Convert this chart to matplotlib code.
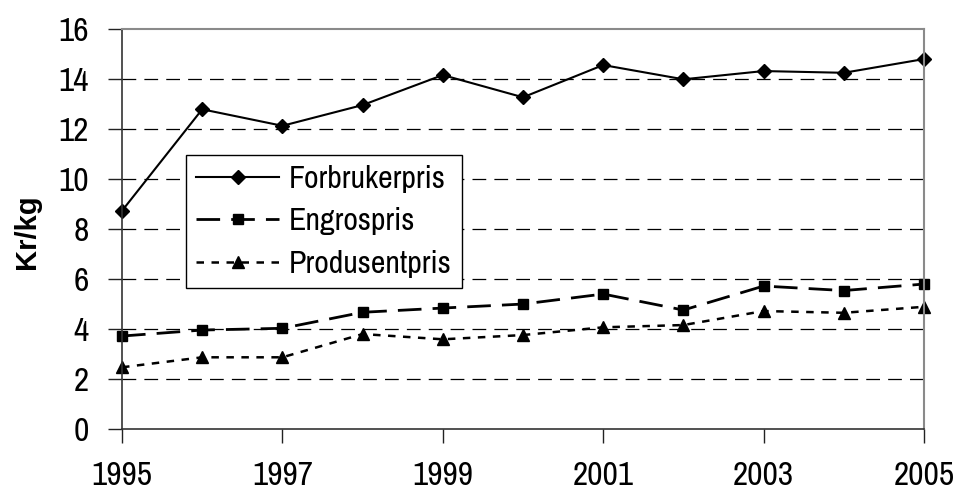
import matplotlib
matplotlib.use("Agg")
import matplotlib.pyplot as plt

years = [1995, 1996, 1997, 1998, 1999, 2000, 2001, 2002, 2003, 2004, 2005]
forbrukerpris = [8.74, 12.80, 12.14, 12.97, 14.17, 13.28, 14.57, 14.00, 14.33, 14.26, 14.81]
engrospris = [3.73, 3.97, 4.04, 4.68, 4.85, 5.01, 5.41, 4.77, 5.73, 5.55, 5.81]
produsentpris = [2.48, 2.88, 2.88, 3.81, 3.60, 3.77, 4.08, 4.17, 4.73, 4.66, 4.90]
series_names = ["Forbrukerpris", "Engrospris", "Produsentpris"]
xtick_years = [1995, 1997, 1999, 2001, 2003, 2005]
yticks = [0, 2, 4, 6, 8, 10, 12, 14, 16]

FONT = ["Archivo Narrow", "Roboto Condensed", "DejaVu Sans"]
plt.rcParams["font.family"] = FONT

fig = plt.figure(figsize=(9.55, 4.92), dpi=100)
ax = fig.add_axes([122 / 955, 1 - 429.3 / 492, 802 / 955, 400 / 492])

ax.plot(years, forbrukerpris, color="black", lw=1.5, marker="D", ms=7,
        label=series_names[0], clip_on=False)
ax.plot(years, engrospris, color="black", lw=2.0, marker="s", ms=7.5,
        linestyle=(0, (8.5, 4)), label=series_names[1], clip_on=False)
ax.plot(years, produsentpris, color="black", lw=1.8, marker="^", ms=8.5,
        linestyle=(0, (3, 3)), label=series_names[2], clip_on=False)

ax.set_xlim(1995, 2005)
ax.set_ylim(0, 16)
ax.set_xticks(xtick_years)
ax.set_xticklabels([str(y) for y in xtick_years])
ax.set_yticks(yticks)
ax.set_yticklabels([str(v) for v in yticks])

for v in yticks[1:-1]:
    ax.axhline(v, color="black", lw=0.9, linestyle=(0, (11, 6.5)), zorder=0)

ax.tick_params(axis="both", direction="out", length=10, width=1, color="#222222",
               labelsize=24)
ax.tick_params(axis="x", pad=13)
ax.tick_params(axis="y", pad=14)

ax.spines["left"].set_color("#333333")
ax.spines["bottom"].set_color("#333333")
ax.spines["left"].set_linewidth(1.2)
ax.spines["bottom"].set_linewidth(1.2)
ax.spines["top"].set_color("#8a8a8a")
ax.spines["right"].set_color("#8a8a8a")
ax.spines["top"].set_linewidth(1.5)
ax.spines["right"].set_linewidth(1.5)

ax.set_ylabel("Kr/kg", fontsize=21, fontweight="bold",
              family=["Liberation Sans", "DejaVu Sans"])
ax.yaxis.set_label_coords((41 - 122) / 802, (429.3 - 232) / 400)

leg = ax.legend(loc="upper left", bbox_to_anchor=(0.0798, 0.686), fontsize=23,
                frameon=True, fancybox=False, edgecolor="black",
                framealpha=1, handlelength=2.6, handletextpad=0.3,
                labelspacing=0.45, borderpad=0.32, borderaxespad=0)
leg.get_frame().set_linewidth(1.0)

fig.savefig("out.png", dpi=100)
